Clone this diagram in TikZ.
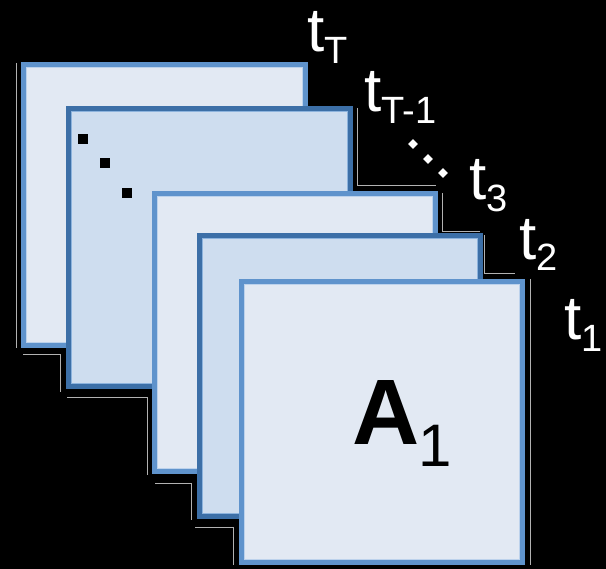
\documentclass[tikz,border=0pt]{standalone}
\usepackage{fontspec}
\setmainfont{Liberation Sans}
\definecolor{palefill}{HTML}{E2E9F3}
\definecolor{tintfill}{HTML}{CEDDEF}
\definecolor{paleedge}{HTML}{5F93CC}
\definecolor{tintedge}{HTML}{3C6FA7}
\definecolor{paleinner}{HTML}{BCD2EC}
\definecolor{tintinner}{HTML}{8DB3DD}
\begin{document}
\begin{tikzpicture}[x=1pt,y=-1pt,
  sheet/.style={line width=4.5pt, anchor=north west, inner sep=0pt, outer sep=0pt},
  pale/.style={sheet, draw=paleedge, fill=palefill},
  tint/.style={sheet, draw=tintedge, fill=tintfill},
  halo/.style={draw=gray!60!white, line width=0.9pt},
  tlabel/.style={text=white, anchor=base west, inner sep=0pt,
                 font=\fontsize{62}{62}\selectfont},
  blackdot/.style={fill=black, minimum size=10pt, inner sep=0pt},
  whitedot/.style={fill=white, minimum size=7pt, inner sep=0pt, rotate=45},
]
% canvas
\fill[black] (0,0) rectangle (606,569);
\useasboundingbox (0,0) rectangle (606,569);

% faint outlines beside the stacked sheets
\draw[halo] (16,63) -- (16,348);
\draw[halo] (23,354) -- (60,354) -- (60,392);
\draw[halo] (67,397) -- (147,397) -- (147,475);
\draw[halo] (155,483) -- (191,483) -- (191,520);
\draw[halo] (195,527) -- (233,527) -- (233,565);
\draw[halo] (357,108) -- (357,185) -- (436,185);
\draw[halo] (442,193) -- (442,231) -- (480,231);
\draw[halo] (484,235) -- (484,273) -- (515,273);
\draw[halo] (530,279) -- (530,565);

% the stack of sheets, back to front, each with its light inner rim
\foreach \s/\kind/\rim/\x/\y/\w/\h in {
    s1/pale/paleinner/23.5/64.5/282/281,
    s2/tint/tintinner/68.5/108.5/282/278,
    s3/pale/paleinner/154.5/193.5/281/278,
    s4/tint/tintinner/199.5/235.5/281/281,
    s5/pale/paleinner/241.5/281.5/281/281} {
  \node[\kind, minimum width=\w pt, minimum height=\h pt] (\s) at (\x,\y) {};
  \draw[\rim, line width=1.6pt]
    ([shift={(3,3)}]\s.north west) rectangle ([shift={(-3,-3)}]\s.south east);
}

% dots on the second sheet
\node[blackdot] (b1) at (83,139) {};
\node[blackdot] (b2) at (105,163) {};
\node[blackdot] (b3) at (127,193) {};

% label of the front sheet
\node[anchor=base west, inner sep=0pt, font=\bfseries\fontsize{93}{93}\selectfont] (a) at (352,445) {A};
\node[anchor=base west, inner sep=0pt, font=\fontsize{60}{60}\selectfont] (a1) at (a.base east) [yshift=-22pt, xshift=-1pt] {1};

% time labels
\node[tlabel] (tT) at (307,52) {t\raisebox{-12pt}{\fontsize{38}{38}\selectfont T}};
\node[tlabel] (tT1) at (364,112) {t\raisebox{-12pt}{\fontsize{38}{38}\selectfont T-1}};
\node[tlabel] (t3) at (469,200) {t\raisebox{-12pt}{\fontsize{38}{38}\selectfont 3}};
\node[tlabel] (t2) at (519,260) {t\raisebox{-11pt}{\fontsize{38}{38}\selectfont 2}};
\node[tlabel] (t1) at (564,340) {t\raisebox{-12pt}{\fontsize{38}{38}\selectfont 1}};

% dots between the time labels
\node[whitedot] (w1) at (413,144) {};
\node[whitedot] (w2) at (428,159) {};
\node[whitedot] (w3) at (443,173) {};
\end{tikzpicture}
\end{document}
